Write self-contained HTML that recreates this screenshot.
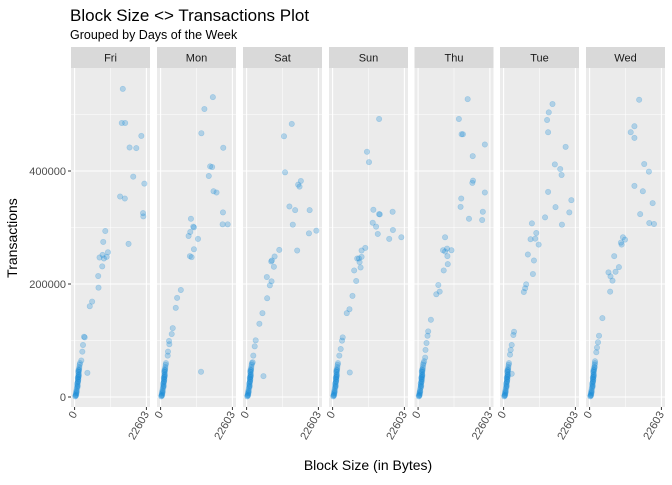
<!DOCTYPE html>
<html><head><meta charset="utf-8"><style>
body{margin:0;background:#fff;}
svg text{font-family:"Liberation Sans",sans-serif;}
</style></head><body>
<svg id="chart" width="672" height="480" xmlns="http://www.w3.org/2000/svg">
<text x="70" y="21" font-size="17" fill="#000">Block Size &lt;&gt; Transactions Plot</text>
<text x="70" y="39" font-size="12.5" fill="#000">Grouped by Days of the Week</text>
<text x="368" y="470" font-size="14" text-anchor="middle" fill="#000">Block Size (in Bytes)</text>
<text transform="translate(17,238) rotate(-90)" font-size="14" text-anchor="middle" fill="#000">Transactions</text>
<g id="panels"></g>
</svg>
<script>
const days = ["Fri","Mon","Sat","Sun","Thu","Tue","Wed"];
const yTicks = [0,200000,400000];
const yTickLabels = ["0","200000","400000"];
const xTicks = [0,22603];
const xTickLabels = ["0","22603"];
const cluster = [[200,1000],[300,3000],[400,6000],[500,9000],[600,12000],[700,15000],[800,19000],[900,22000],[1000,26000],[1050,29000],[1100,32000],[1150,35000],[1200,38000],[1250,41000],[1300,44000],[1400,47000],[1450,50000],[1500,53000],[1600,57000],[1700,60000],[900,17000],[700,10000],[500,4000],[1300,36000],[1100,27000],[1000,20000],[800,24000],[1200,31000],[1350,39000],[1000,34000],[1150,45000],[600,7000],[400,2000],[1250,48000]];
const friX = [15170,14850,15920,21010,17300,19420,18460,21960,14320,15810,21540,21640,9660,9020,16980,10500,8810,7850,9230,10080,8700,7430,7530,5520,4770,2970,3180,2650,2440,2120,4030];
const friY = [545400,485000,485000,462100,441600,440500,390000,377700,354800,351300,325500,319600,293800,274500,271000,256300,251600,246900,245200,248100,231100,214100,193500,168900,160700,106700,105600,92100,80300,64500,42800];
const monX = [16450,13790,12840,19730,15600,16230,15170,16660,17610,19630,19520,21110,9550,10290,10500,9340,8810,11780,10500,9230,9760,6370,5200,4770,3820,3500,2650,2760,2330,2230,12730];
const monY = [530800,509700,466900,441100,408200,407000,391200,364200,361900,326700,305600,305600,315500,301500,300300,292100,285000,279800,261600,249300,247500,189400,175400,157800,122000,111400,99100,93300,80300,73300,44600];
const satX = [14220,11780,12100,17080,16230,16660,13480,15280,19840,14540,19630,21960,15920,10290,8810,7750,7960,8590,6370,7850,7320,6470,4990,4030,2860,2550,2120,1910,5310];
const satY = [483300,461600,397600,382400,375900,372400,337200,330800,330800,305000,289700,294400,259200,260400,248700,239900,241600,230500,212300,204700,197600,174800,148400,129600,100300,89700,73300,61600,36900];
const sunX = [14640,10820,11460,12840,14640,14850,18890,12630,13690,14220,18990,17820,21640,10290,9120,9120,7750,8280,8490,8810,6790,7430,6260,5310,4460,3180,2970,2550,2120,5410];
const sunY = [492100,434000,415800,331400,323700,323200,327800,308500,301500,288600,295600,279800,282700,263900,259200,248100,245200,245200,238700,229300,224000,205300,178900,155400,148400,105600,99700,85000,73300,43400];
const thuX = [15600,12840,13690,14110,21010,17190,17290,17080,21010,13580,13370,20370,20160,16020,8490,7850,9120,8490,10500,9230,9340,8060,6370,6790,5730,4030,3180,2970,2650,2330,2230,1910];
const thuY = [527300,492100,465100,465100,446900,426400,383000,378900,361900,351300,336600,327800,313200,315500,282700,259800,262700,257500,259800,249300,235200,224000,198200,186500,181800,136700,116100,108500,95600,83300,69800,63300];
const tueX = [15390,14220,13690,14010,19520,16130,17820,18250,14010,21330,16340,20690,18360,13050,8910,10290,8490,9970,11030,7640,9550,9230,7110,6790,6370,3290,3080,2550,2230,2020,2550];
const tueY = [518500,503800,490300,468600,442800,411700,403500,393000,363000,348400,336100,326700,305000,317900,307300,290300,279200,280300,269800,252200,241600,217600,199400,192400,185900,115500,109700,92100,83300,75100,41100];
const wedX = [15600,14110,12940,14110,17190,18670,14110,16760,19840,15920,18780,20270,10500,11140,9870,10080,7750,9230,8170,5940,6580,7210,6470,4030,2970,2650,2330,2120,1700,1590];
const wedY = [526100,479200,468600,458600,412300,398800,373600,364200,343100,323700,307900,306200,282700,278600,273300,269800,249300,229900,221700,220500,213500,205900,186500,139600,108500,96800,87400,79200,63300,52800];
const seriesX = [friX,monX,satX,sunX,thuX,tueX,wedX];
const seriesY = [friY,monY,satY,sunY,thuY,tueY,wedY];

const NS="http://www.w3.org/2000/svg";
const panelLefts=[71,157,243,329,414.5,500,586];
const PW=79, PT=68, PB=407;
const xMax=22603;
function yScale(v){return 397 - v*(226/400000);}
function xScale(i,v){return panelLefts[i]+PW*0.05/1.1 + v/xMax*(PW/1.1);}
function mk(tag,attrs,parent){const e=document.createElementNS(NS,tag);for(const k in attrs)e.setAttribute(k,attrs[k]);parent.appendChild(e);return e;}
const root=document.getElementById('panels');

yTicks.forEach((t,k)=>{
  const y=yScale(t);
  const ln=mk('line',{x1:68,x2:71,y1:y,y2:y,stroke:'#333','stroke-width':1},root);
  
  
  const tx=mk('text',{x:66,y:y+4,'font-size':11,'text-anchor':'end',fill:'#4d4d4d'},root);
  tx.textContent=yTickLabels[k];
  
  
});

days.forEach((d,i)=>{
  const g=mk('g',{},root);
  
  
  const L=panelLefts[i];
  const strip=mk('rect',{x:L,y:47,width:PW,height:21,fill:'#d9d9d9'},g);
  
  
  const st=mk('text',{x:L+PW/2,y:61.5,'font-size':11,'text-anchor':'middle',fill:'#1a1a1a'},g);
  st.textContent=d;
  
  
  const bg=mk('rect',{x:L,y:PT,width:PW,height:PB-PT,fill:'#ebebeb'},g);
  
  
  [100000,300000,500000].forEach(v=>{const y=yScale(v);const l=mk('line',{x1:L,x2:L+PW,y1:y,y2:y,stroke:'#fff','stroke-width':0.5},g);});
  [xMax/2].forEach(v=>{const x=xScale(i,v);const l=mk('line',{x1:x,x2:x,y1:PT,y2:PB,stroke:'#fff','stroke-width':0.5},g);});
  yTicks.forEach(v=>{const y=yScale(v);const l=mk('line',{x1:L,x2:L+PW,y1:y,y2:y,stroke:'#fff','stroke-width':1.1},g);});
  xTicks.forEach((v,k)=>{
    const x=xScale(i,v);
    const l=mk('line',{x1:x,x2:x,y1:PT,y2:PB,stroke:'#fff','stroke-width':1.1},g);
    
    
    const tk=mk('line',{x1:x,x2:x,y1:PB,y2:PB+3,stroke:'#333','stroke-width':1},g);
    
    
    const tx=mk('text',{transform:`translate(${x+3},${PB+7}) rotate(-60)`,'font-size':11,'text-anchor':'end',fill:'#4d4d4d'},g);
    tx.textContent=xTickLabels[k];
    
    
  });
  const pts=[];
  cluster.forEach(p=>pts.push(p));
  seriesX[i].forEach((xv,j)=>pts.push([xv,seriesY[i][j]]));
  pts.forEach(p=>{
    const c=mk('circle',{cx:xScale(i,p[0]),cy:yScale(p[1]),r:2.7,fill:'rgb(25,140,215)','fill-opacity':0.28,stroke:'rgb(25,140,215)','stroke-opacity':0.28,'stroke-width':0.6},g);
    
    
  });
});
</script>
</body></html>
